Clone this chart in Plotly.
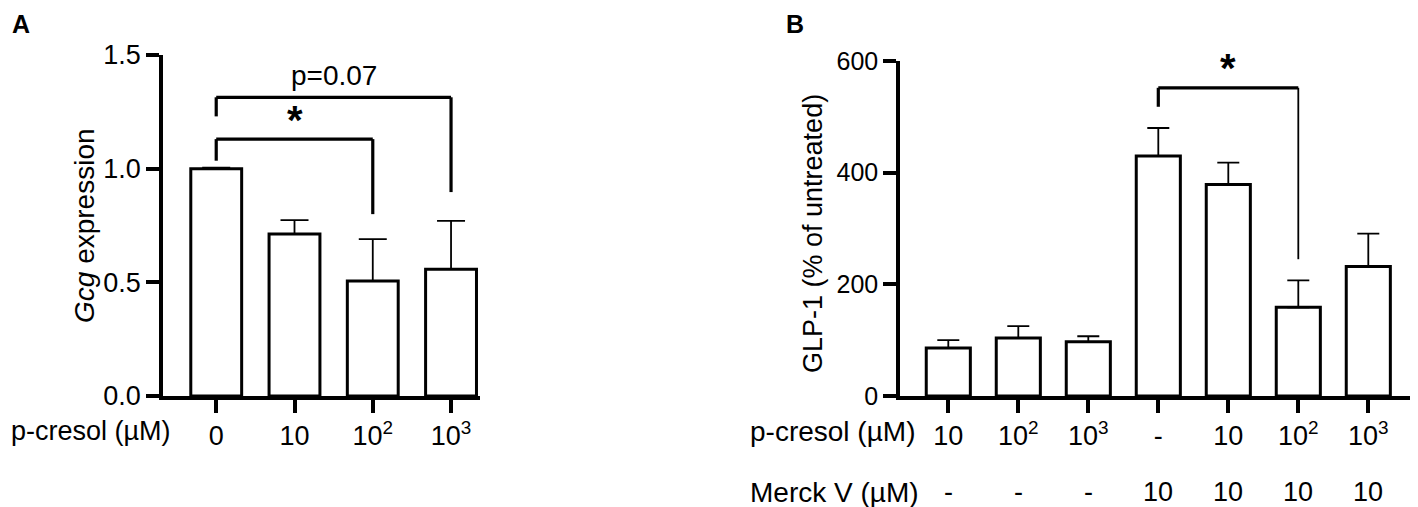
import plotly.graph_objects as go

# panel A - Gcg expression
a_labels = ["0", "10", "10<sup>2</sup>", "10<sup>3</sup>"]
a_mean = [1.0, 0.713, 0.506, 0.558]
a_err = [0.004, 0.061, 0.184, 0.212]
a_brackets = [(0, 2, 1.13, 1.035, 0.80, "<b>*</b>"), (0, 3, 1.314, 1.23, 0.897, "p=0.07")]

# panel B - GLP-1 secretion
b_cresol = ["10", "10<sup>2</sup>", "10<sup>3</sup>", "-", "10", "10<sup>2</sup>", "10<sup>3</sup>"]
b_merck = ["-", "-", "-", "10", "10", "10", "10"]
b_mean = [86, 104, 97, 430, 379, 159, 232]
b_err = [14, 21, 10, 50, 39, 48, 59]
b_brackets = [(3, 5, 552, 518, 245, "<b>*</b>")]

FONT = "Arial, Liberation Sans, sans-serif"
# the page body has an 8px margin, so the figure is drawn 8px smaller and all
# pixel positions below are given in window coordinates and shifted by OFF
OFF = 8
W, H = 1418 - OFF, 507 - OFF

def px_x(p):
    return (p - OFF) / W

def px_y(p):
    return 1 - (p - OFF) / H

fig = go.Figure()

fig.add_trace(go.Bar(
    x=list(range(len(a_mean))), y=a_mean, width=0.65,
    marker=dict(color="white", line=dict(color="black", width=3)),
    error_y=dict(type="data", array=a_err, arrayminus=[0] * len(a_err), symmetric=False,
                 color="black", thickness=1.8, width=14),
    xaxis="x", yaxis="y", showlegend=False))

fig.add_trace(go.Bar(
    x=list(range(len(b_mean))), y=b_mean, width=0.63,
    marker=dict(color="white", line=dict(color="black", width=3)),
    error_y=dict(type="data", array=b_err, arrayminus=[0] * len(b_err), symmetric=False,
                 color="black", thickness=1.8, width=11),
    xaxis="x2", yaxis="y2", showlegend=False))

shapes = []
annotations = []

def txt(size):
    return dict(family=FONT, size=size, color="black")

def add_bracket(xa, ya, x0, x1, top, left_end, right_end, label, label_y, right_w, size):
    shapes.append(dict(type="line", xref=xa, yref=ya, x0=x0, x1=x0, y0=left_end, y1=top,
                       line=dict(color="black", width=3.2)))
    shapes.append(dict(type="line", xref=xa, yref=ya, x0=x0, x1=x1, y0=top, y1=top,
                       line=dict(color="black", width=3.2)))
    shapes.append(dict(type="line", xref=xa, yref=ya, x0=x1, x1=x1, y0=top, y1=right_end,
                       line=dict(color="black", width=right_w)))
    annotations.append(dict(xref=xa, yref=ya, x=(x0 + x1) / 2, y=label_y, text=label,
                            xanchor="center", yanchor="middle", showarrow=False, font=txt(size)))

for x0, x1, top, le, re, lab in a_brackets:
    if lab.startswith("p"):
        add_bracket("x", "y", x0, x1, top, le, re, lab, 1.41, 3.2, 28)
    else:
        add_bracket("x", "y", x0, x1, top, le, re, lab, 1.215, 3.2, 40)

for x0, x1, top, le, re, lab in b_brackets:
    add_bracket("x2", "y2", x0, x1, top, le, re, lab, 587, 1.8, 40)

# Merck V row under panel B
for i, t in enumerate(b_merck):
    annotations.append(dict(xref="x2", yref="paper", x=i, y=px_y(492), text=t, showarrow=False,
                            font=txt(27), xanchor="center", yanchor="middle"))

# row labels
for xp, yp, t in [(9, 431, "p-cresol (µM)"), (748, 431, "p-cresol (µM)"), (748, 492, "Merck V (µM)")]:
    annotations.append(dict(xref="paper", yref="paper", x=px_x(xp), y=px_y(yp), text=t,
                            showarrow=False, xanchor="left", yanchor="middle",
                            font=txt(27 if xp < 100 else 28)))

# y axis titles
annotations.append(dict(xref="paper", yref="paper", x=px_x(84), y=px_y(226), text="<i>Gcg</i> expression",
                        textangle=-90, xanchor="center", yanchor="middle", showarrow=False, font=txt(28)))
annotations.append(dict(xref="paper", yref="paper", x=px_x(813), y=px_y(234), text="GLP-1 (% of untreated)",
                        textangle=-90, xanchor="center", yanchor="middle", showarrow=False, font=txt(27)))

# panel letters
annotations.append(dict(xref="paper", yref="paper", x=px_x(10), y=1.0, text="<b>A</b>",
                        xanchor="left", yanchor="top", showarrow=False, font=txt(25)))
annotations.append(dict(xref="paper", yref="paper", x=px_x(784), y=1.0, text="<b>B</b>",
                        xanchor="left", yanchor="top", showarrow=False, font=txt(25)))

axis_common = dict(showline=True, linecolor="black", linewidth=3.5, ticks="outside", ticklen=13,
                   tickwidth=3.5, tickcolor="black", showgrid=False, zeroline=False,
                   automargin=False, tickfont=txt(27))

fig.update_layout(
    template="none",
    width=W, height=H, margin=dict(l=0, r=0, t=0, b=0, pad=0, autoexpand=False),
    plot_bgcolor="white", paper_bgcolor="white", showlegend=False,
    xaxis=dict(domain=[px_x(163), px_x(480)], range=[-0.68, 3.37], anchor="y",
               tickvals=list(range(len(a_labels))), ticktext=a_labels, **axis_common),
    yaxis=dict(domain=[px_y(396), px_y(55)], range=[0, 1.5], anchor="x",
               tickvals=[0, 0.5, 1.0, 1.5], tickformat=".1f", **axis_common),
    xaxis2=dict(domain=[px_x(900), 1.0], range=[-0.69, 6.71], anchor="y2",
                tickvals=list(range(len(b_cresol))), ticktext=b_cresol, **axis_common),
    yaxis2=dict(domain=[px_y(396), px_y(61)], range=[0, 600], anchor="x2",
                tickvals=[0, 200, 400, 600], **axis_common),
    shapes=shapes, annotations=annotations,
)
fig.update_layout(yaxis2_tickfont=txt(25))

fig.write_html("out.html")
